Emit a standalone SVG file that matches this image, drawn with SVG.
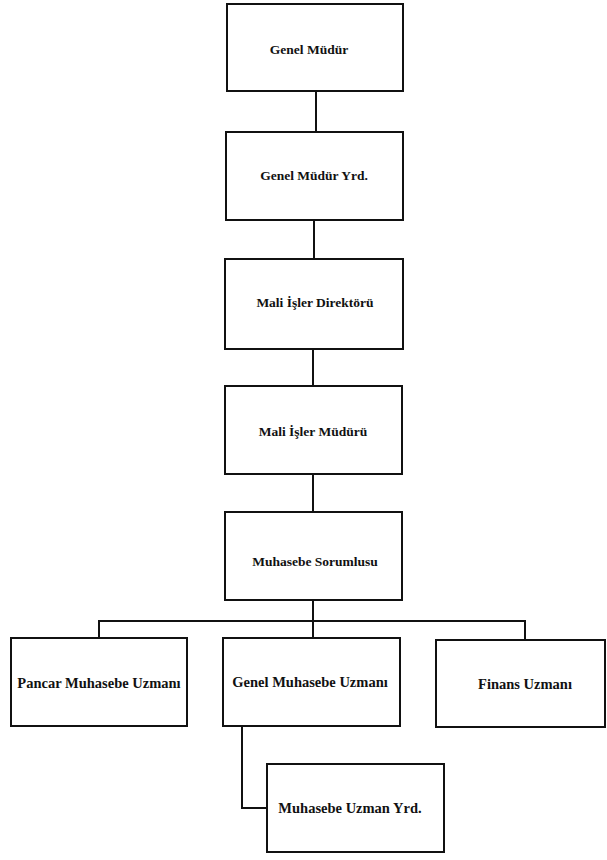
<svg xmlns="http://www.w3.org/2000/svg" width="607" height="860" viewBox="0 0 607 860">
<style>
.box{fill:#fff;stroke:#111;stroke-width:2}
.lbl{font-family:"Liberation Serif","Times New Roman",serif;font-weight:bold;font-size:13.5px;fill:#111;text-anchor:middle;dominant-baseline:central}
.sm{font-size:14.5px}
.conn{fill:none;stroke:#111;stroke-width:2}
</style>
<rect width="607" height="860" fill="#fff"/>
<g id="connectors">
<line class="conn" x1="316" y1="91" x2="316" y2="132"/>
<line class="conn" x1="314" y1="220" x2="314" y2="259"/>
<line class="conn" x1="313" y1="349" x2="313" y2="386"/>
<line class="conn" x1="313" y1="474" x2="313" y2="512"/>
<line class="conn" x1="313" y1="600" x2="313" y2="638"/>
<polyline class="conn" points="99,638 99,621 525,621 525,640"/>
<polyline class="conn" points="242,726 242,808 267,808"/>
</g>
<g id="genel-mudur">
<rect class="box" x="227" y="4" width="176" height="87"/>
<text class="lbl" x="309" y="49">Genel Müdür</text>
</g>
<g id="genel-mudur-yrd">
<rect class="box" x="226" y="132" width="177" height="88"/>
<text class="lbl" x="314" y="175">Genel Müdür Yrd.</text>
</g>
<g id="mali-isler-direktoru">
<rect class="box" x="225" y="259" width="178" height="90"/>
<text class="lbl" x="315" y="302">Mali İşler Direktörü</text>
</g>
<g id="mali-isler-muduru">
<rect class="box" x="225" y="386" width="177" height="88"/>
<text class="lbl" x="313" y="431">Mali İşler Müdürü</text>
</g>
<g id="muhasebe-sorumlusu">
<rect class="box" x="225" y="512" width="177" height="88"/>
<text class="lbl" x="315" y="561">Muhasebe Sorumlusu</text>
</g>
<g id="pancar-muhasebe-uzmani">
<rect class="box" x="11" y="638" width="176" height="88"/>
<text class="lbl sm" x="99" y="683">Pancar Muhasebe Uzmanı</text>
</g>
<g id="genel-muhasebe-uzmani">
<rect class="box" x="223" y="638" width="177" height="88"/>
<text class="lbl sm" x="310" y="682">Genel Muhasebe Uzmanı</text>
</g>
<g id="finans-uzmani">
<rect class="box" x="436" y="640" width="169" height="87"/>
<text class="lbl sm" x="525" y="684">Finans Uzmanı</text>
</g>
<g id="muhasebe-uzman-yrd">
<rect class="box" x="267" y="764" width="177" height="88"/>
<text class="lbl sm" x="350" y="808">Muhasebe Uzman Yrd.</text>
</g>
</svg>
